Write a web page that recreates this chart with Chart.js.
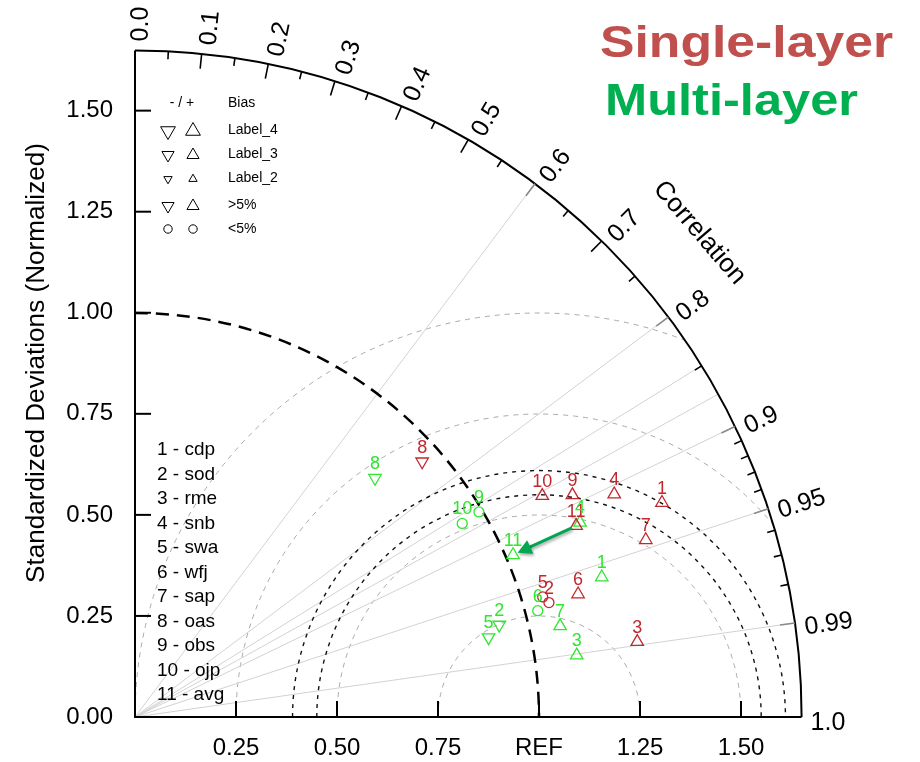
<!DOCTYPE html>
<html><head><meta charset="utf-8">
<script src="https://cdn.jsdelivr.net/npm/chart.js@4.4.1/dist/chart.umd.min.js"></script>
<style>html,body{margin:0;padding:0;background:#fff;}canvas{display:block;}</style>
</head><body>
<canvas id="c" width="920" height="762"></canvas>
<script>
// ---------------- data ----------------
const stations = ['cdp','sod','rme','snb','swa','wfj','sap','oas','obs','ojp','avg'];
const singleStd  = [1.408,1.063,1.257,1.308,1.052,1.138,1.338,0.951,1.214,1.147,1.190];
const singleCorr = [0.9264,0.9639,0.9890,0.9069,0.9593,0.9637,0.9449,0.7474,0.8919,0.8789,0.9176];
const singleBias = ['+','o','+','+','o','+','+','-','+','+','+'];
const multiStd   = [1.206,0.930,1.104,1.202,0.897,1.031,1.076,0.838,0.991,0.941,1.018];
const multiCorr  = [0.9580,0.9695,0.9904,0.9164,0.9756,0.9669,0.9779,0.7089,0.8591,0.8608,0.9192];
const multiBias  = ['+','-','+','+','-','o','+','-','o','o','+'];
const seriesNames = ['Single-layer','Multi-layer'];
const refStd = 1.0;
const maxStd = 1.65;
const xTickValues = [0.25,0.5,0.75,1.0,1.25,1.5];
const xTickLabels = ['0.25','0.50','0.75','REF','1.25','1.50'];
const yTickValues = [0,0.25,0.5,0.75,1.0,1.25,1.5];
const yTickLabels = ['0.00','0.25','0.50','0.75','1.00','1.25','1.50'];
const yTitle = 'Standardized Deviations (Normalized)';
const corrTitle = 'Correlation';
const corrMajor  = [0,0.1,0.2,0.3,0.4,0.5,0.6,0.7,0.8,0.9,0.95,0.99,1.0];
const corrLabels = ['0.0','0.1','0.2','0.3','0.4','0.5','0.6','0.7','0.8','0.9','0.95','0.99','1.0'];
const corrMinor  = [0.05,0.15,0.25,0.35,0.45,0.55,0.65,0.75,0.85,0.91,0.92,0.93,0.94,0.96,0.97,0.98];
const corrRays   = [0.6,0.8,0.85,0.875,0.9,0.95,0.99];
const rmsGrey = [0.25,0.5,0.75,1.0];
const rmsDark = [0.55,0.61];
const biasHeader = ['- / +','Bias'];
const biasRows = ['Label_4','Label_3','Label_2','>5%','<5%'];

// ---------------- styles ----------------
const RED = '#c1272d', GREEN = '#2ee62e', ARROW = '#00a651';
const FONT = "'Liberation Sans', Arial, sans-serif";

function toXY(std, corr){
  return std.map((s,i)=>({x: s*corr[i], y: s*Math.sqrt(1-corr[i]*corr[i])}));
}
function styleFor(b){ return b==='o' ? 'circle' : 'triangle'; }

function tri(ctx, x, y, r, down){
  const s = down ? -1 : 1;
  const w = r*Math.sqrt(3)/2;
  ctx.beginPath();
  ctx.moveTo(x, y - s*r);
  ctx.lineTo(x + w, y + s*r/2);
  ctx.lineTo(x - w, y + s*r/2);
  ctx.closePath();
  ctx.stroke();
}
function fitText(ctx, text, x, y, width){
  const w = ctx.measureText(text).width;
  ctx.save(); ctx.translate(x, y); ctx.scale(width / w, 1);
  ctx.fillText(text, 0, 0);
  ctx.restore();
}

const taylorPlugin = {
  id: 'taylor',
  beforeDatasetsDraw(chart){
    const {ctx, scales:{x, y}} = chart;
    const ox = x.getPixelForValue(0), oy = y.getPixelForValue(0);
    const ppu = x.getPixelForValue(1) - ox;
    const R = x.getPixelForValue(maxStd) - ox;
    const P = (a,b)=>[x.getPixelForValue(a), y.getPixelForValue(b)];
    const [rx, ry] = P(refStd, 0);
    ctx.save();
    ctx.beginPath(); ctx.moveTo(ox,oy); ctx.arc(ox,oy,R,-Math.PI/2,0); ctx.closePath(); ctx.clip();
    // grey centred-RMS arcs
    ctx.setLineDash([5,5]); ctx.strokeStyle = '#aaaaaa'; ctx.lineWidth = 1;
    rmsGrey.forEach(r=>{ ctx.beginPath(); ctx.arc(rx,ry,r*ppu,Math.PI,2*Math.PI); ctx.stroke(); });
    // correlation rays
    ctx.setLineDash([]); ctx.strokeStyle = '#d2d2d2'; ctx.lineWidth = 1;
    corrRays.forEach(c=>{
      const [px,py] = P(maxStd*c, maxStd*Math.sqrt(1-c*c));
      ctx.beginPath(); ctx.moveTo(ox,oy); ctx.lineTo(px,py); ctx.stroke();
    });
    // dark RMS arcs
    ctx.setLineDash([4,5]); ctx.strokeStyle = '#111'; ctx.lineWidth = 1.4;
    rmsDark.forEach(r=>{ ctx.beginPath(); ctx.arc(rx,ry,r*ppu,Math.PI,2*Math.PI); ctx.stroke(); });
    // reference std arc
    ctx.setLineDash([13,8]); ctx.strokeStyle = '#000'; ctx.lineWidth = 2.5;
    ctx.beginPath(); ctx.arc(ox,oy,refStd*ppu,-Math.PI/2,0); ctx.stroke();
    ctx.restore();

    ctx.save();
    ctx.strokeStyle = '#000'; ctx.lineWidth = 2; ctx.setLineDash([]);
    // axes + outer arc
    ctx.beginPath(); ctx.moveTo(ox, oy - R); ctx.lineTo(ox, oy); ctx.lineTo(ox + R, oy); ctx.stroke();
    ctx.beginPath(); ctx.arc(ox,oy,R,-Math.PI/2,0); ctx.stroke();
    // std ticks (inward)
    xTickValues.forEach(v=>{ const px = x.getPixelForValue(v); ctx.beginPath(); ctx.moveTo(px,oy); ctx.lineTo(px,oy-16); ctx.stroke(); });
    yTickValues.forEach(v=>{ if(v===0) return; const py = y.getPixelForValue(v); ctx.beginPath(); ctx.moveTo(ox,py); ctx.lineTo(ox+16,py); ctx.stroke(); });
    // correlation ticks
    const tick = (c,len,col)=>{
      const s = Math.sqrt(1-c*c);
      ctx.strokeStyle = col;
      ctx.beginPath(); ctx.moveTo(ox+R*c, oy-R*s); ctx.lineTo(ox+(R-len)*c, oy-(R-len)*s); ctx.stroke();
    };
    ctx.lineWidth = 1.6;
    corrMajor.forEach(c=>{ if(c===0||c===1) return; tick(c,15, corrRays.includes(c)?'#8a8a8a':'#000'); });
    corrMinor.forEach(c=> tick(c,8,'#000'));
    // correlation labels
    ctx.fillStyle = '#000'; ctx.font = '25px ' + FONT; ctx.textAlign = 'left'; ctx.textBaseline = 'middle';
    corrMajor.forEach((c,i)=>{
      const th = Math.acos(c);
      ctx.save(); ctx.translate(ox,oy); ctx.rotate(-th);
      ctx.fillText(corrLabels[i], R+9, 6);
      ctx.restore();
    });
    // "Correlation"
    const thC = Math.acos(0.759);
    ctx.save(); ctx.translate(ox,oy); ctx.rotate(-thC);
    ctx.translate(R+77, 0); ctx.rotate(Math.PI/2);
    ctx.font = '26px ' + FONT; ctx.textAlign = 'center';
    ctx.fillText(corrTitle, 0, 0);
    ctx.restore();
    // y-axis title
    ctx.save(); ctx.translate(37, 363); ctx.rotate(-Math.PI/2);
    ctx.font = '25px ' + FONT; ctx.textAlign = 'center'; ctx.textBaseline = 'middle';
    fitText(ctx, yTitle, 0, 0, 440);
    ctx.restore();
    ctx.restore();
  },
  afterDatasetsDraw(chart){
    const {ctx} = chart;
    ctx.save();
    // point number labels
    ctx.font = '18px ' + FONT; ctx.textAlign = 'center'; ctx.textBaseline = 'middle';
    chart.data.datasets.forEach((ds,di)=>{
      const meta = chart.getDatasetMeta(di);
      ctx.fillStyle = ds.pointBorderColor;
      meta.data.forEach((pt,i)=> ctx.fillText(String(i+1), pt.x, pt.y-14));
    });
    // arrow from single-layer avg to multi-layer avg
    const last = stations.length-1;
    const a = chart.getDatasetMeta(0).data[last], b = chart.getDatasetMeta(1).data[last];
    const dx = b.x-a.x, dy = b.y-a.y, L = Math.hypot(dx,dy), ux = dx/L, uy = dy/L;
    const sx = a.x+ux*6, sy = a.y+uy*6, ex = b.x-ux*5, ey = b.y-uy*5;
    ctx.save();
    ctx.shadowColor = 'rgba(0,0,0,0.35)'; ctx.shadowBlur = 3; ctx.shadowOffsetX = 1; ctx.shadowOffsetY = 2;
    ctx.strokeStyle = ARROW; ctx.fillStyle = ARROW; ctx.lineWidth = 3; ctx.lineCap = 'round';
    const hx = ex-ux*14, hy = ey-uy*14;
    ctx.beginPath(); ctx.moveTo(sx,sy); ctx.lineTo(hx,hy); ctx.stroke();
    ctx.beginPath(); ctx.moveTo(ex,ey); ctx.lineTo(hx-uy*7.5, hy+ux*7.5); ctx.lineTo(hx+uy*7.5, hy-ux*7.5); ctx.closePath(); ctx.fill();
    ctx.restore();
    // station legend
    ctx.fillStyle = '#000'; ctx.font = '19px ' + FONT; ctx.textAlign = 'left'; ctx.textBaseline = 'middle';
    stations.forEach((s,i)=> ctx.fillText((i+1)+' - '+s, 157, 450 + i*24.5));
    // bias legend
    ctx.font = '14px ' + FONT;
    ctx.textAlign = 'center'; ctx.fillText(biasHeader[0], 182, 103);
    ctx.textAlign = 'left'; ctx.fillText(biasHeader[1], 228, 103);
    const rowsY = [130,154,178,205,229];
    const radii = [8.5,7,4.8,7,4.2];
    ctx.strokeStyle = '#000'; ctx.lineWidth = 1;
    biasRows.forEach((t,i)=>{
      const yy = rowsY[i];
      if (i === biasRows.length-1){
        ctx.beginPath(); ctx.arc(168,yy,radii[i],0,2*Math.PI); ctx.stroke();
        ctx.beginPath(); ctx.arc(193,yy,radii[i],0,2*Math.PI); ctx.stroke();
      } else {
        tri(ctx,168,yy+1,radii[i],true);
        tri(ctx,193,yy+1,radii[i],false);
      }
      ctx.fillText(t, 228, yy);
    });
    // titles
    ctx.font = "bold 45px 'Liberation Sans', Arial, sans-serif"; ctx.textAlign = 'left'; ctx.textBaseline = 'alphabetic';
    ctx.fillStyle = '#c0504d'; fitText(ctx, seriesNames[0], 600, 57, 293);
    ctx.fillStyle = '#00b050'; fitText(ctx, seriesNames[1], 605, 115, 253);
    ctx.restore();
  }
};

function makeDataset(name, std, corr, bias, color){
  return {
    label: name,
    data: toXY(std, corr),
    pointStyle: c => styleFor(bias[c.dataIndex]),
    pointRotation: c => bias[c.dataIndex]==='-' ? 180 : 0,
    pointRadius: c => bias[c.dataIndex]==='o' ? 5 : 7.2,
    pointBorderColor: color,
    pointBackgroundColor: 'rgba(0,0,0,0)',
    pointBorderWidth: 1.3,
    showLine: false,
    clip: false
  };
}

new Chart(document.getElementById('c'), {
  type: 'scatter',
  data: { datasets: [
    makeDataset(seriesNames[0], singleStd, singleCorr, singleBias, RED),
    makeDataset(seriesNames[1], multiStd, multiCorr, multiBias, GREEN)
  ]},
  options: {
    responsive: false, animation: false, devicePixelRatio: 1,
    layout: { padding: { left: 0, top: 50, right: 118.4, bottom: 0 } },
    plugins: { legend: { display: false }, tooltip: { enabled: false } },
    scales: {
      x: {
        type: 'linear', min: 0, max: maxStd,
        afterFit: s => { s.height = 45; },
        afterBuildTicks: s => { s.ticks = xTickValues.map(v => ({ value: v })); },
        grid: { display: false, drawTicks: false }, border: { display: false },
        ticks: { autoSkip: false, maxRotation: 0, padding: 17, color: '#000',
          font: { family: FONT, size: 24 },
          callback: v => { const i = xTickValues.findIndex(t => Math.abs(t - v) < 1e-9); return i < 0 ? '' : xTickLabels[i]; } }
      },
      y: {
        type: 'linear', min: 0, max: maxStd,
        afterFit: s => { s.width = 135; },
        afterBuildTicks: s => { s.ticks = yTickValues.map(v => ({ value: v })); },
        grid: { display: false, drawTicks: false }, border: { display: false },
        ticks: { autoSkip: false, padding: 22, color: '#000',
          font: { family: FONT, size: 24 },
          callback: v => { const i = yTickValues.findIndex(t => Math.abs(t - v) < 1e-9); return i < 0 ? '' : yTickLabels[i]; } }
      }
    }
  },
  plugins: [taylorPlugin]
});
</script>
</body></html>
